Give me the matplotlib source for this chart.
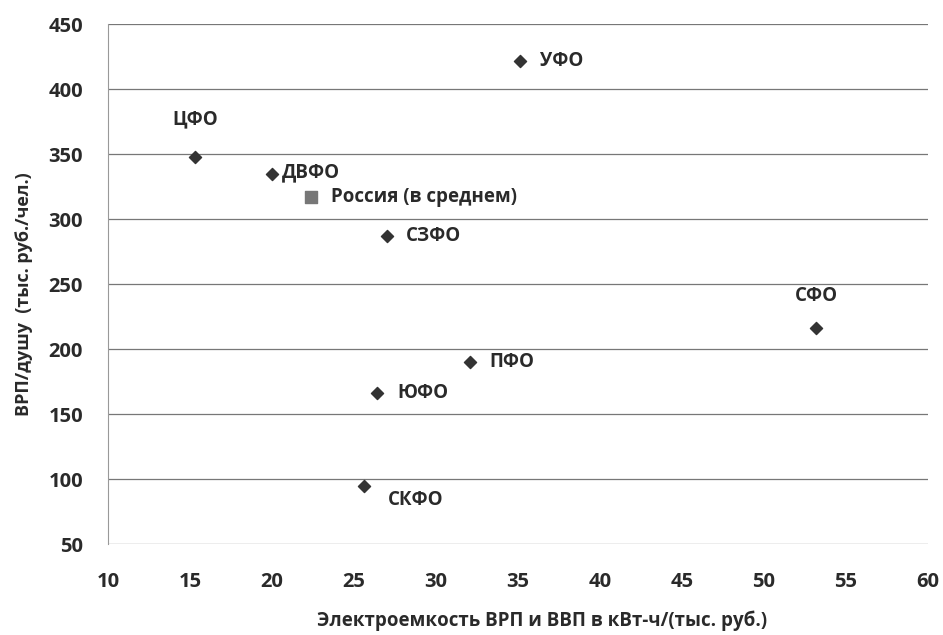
import matplotlib
matplotlib.use("Agg")
import matplotlib.pyplot as plt

plt.rcParams['font.family'] = ['Open Sans', 'DejaVu Sans']

regions = ["ЦФО", "ДВФО", "СЗФО", "УФО", "СФО", "ПФО", "ЮФО", "СКФО"]
energy = [15.3, 20.0, 27.0, 35.1, 53.2, 32.1, 26.4, 25.6]
grp = [348, 335, 287, 422, 216, 190, 166, 95]

russia_label = "Россия (в среднем)"
russia_energy = 22.4
russia_grp = 317

x_ticks = [10, 15, 20, 25, 30, 35, 40, 45, 50, 55, 60]
y_ticks = [50, 100, 150, 200, 250, 300, 350, 400, 450]

# label offsets in points (dx, dy, ha, va)
offsets = {
    "ЦФО": (0, 20, "center", "bottom"),
    "ДВФО": (7, 1, "left", "center"),
    "СЗФО": (14, 0, "left", "center"),
    "УФО": (15, 0, "left", "center"),
    "СФО": (0, 16, "center", "bottom"),
    "ПФО": (14, 0, "left", "center"),
    "ЮФО": (15, 0, "left", "center"),
    "СКФО": (17, -3, "left", "top"),
}

fig = plt.figure(figsize=(9.43, 6.35), dpi=100)
ax = fig.add_axes([0.1145, 0.143, 0.8695, 0.819])

ax.set_xlim(10, 60)
ax.set_ylim(50, 450)
ax.set_xticks(x_ticks)
ax.set_yticks(y_ticks)
ax.tick_params(axis='x', length=0, labelsize=14.5, pad=20)
ax.tick_params(axis='y', length=0, labelsize=14.5, pad=18)
for lbl in ax.get_xticklabels() + ax.get_yticklabels():
    lbl.set_fontweight('bold')
    lbl.set_color('#2a2a2a')

ax.grid(axis='y', color='#777777', linewidth=0.9)
ax.set_axisbelow(True)
for s in ['top', 'right', 'bottom']:
    ax.spines[s].set_visible(False)
ax.spines['left'].set_color('#999999')
ax.spines['left'].set_linewidth(0.8)

ax.scatter(energy, grp, marker='D', s=38, color='#333333', zorder=3)
ax.scatter([russia_energy], [russia_grp], marker='s', s=65, color='#777777', zorder=3)

for name, x, y in zip(regions, energy, grp):
    dx, dy, ha, va = offsets[name]
    ax.annotate(name, (x, y), xytext=(dx, dy), textcoords='offset points',
                ha=ha, va=va, fontsize=13.5, fontweight='bold', color='#2a2a2a')
ax.annotate(russia_label, (russia_energy, russia_grp), xytext=(14, 0),
            textcoords='offset points', ha='left', va='center',
            fontsize=13.5, fontweight='bold', color='#2a2a2a')

ax.set_xlabel("Электроемкость ВРП и ВВП в кВт-ч/(тыс. руб.)", fontsize=13.5,
              fontweight='bold', color='#2a2a2a')
ax.set_ylabel("ВРП/душу  (тыс. руб./чел.)", fontsize=13, fontweight='bold',
              color='#2a2a2a')
ax.xaxis.set_label_coords(0.53, -0.128)
ax.yaxis.set_label_coords(-0.091, 0.48)

fig.savefig("out.png", dpi=100, facecolor='white')
